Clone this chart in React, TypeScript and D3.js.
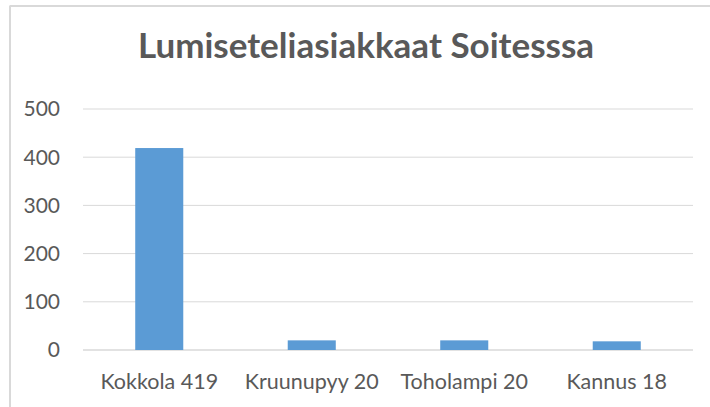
import React from 'react';
import * as d3 from 'd3';

const categories = ['Kokkola 419', 'Kruunupyy 20', 'Toholampi 20', 'Kannus 18'];
const values = [419, 20, 20, 18];
const yTicks = [0, 100, 200, 300, 400, 500];
const title = 'Lumiseteliasiakkaat Soitesssa';

const W = 710;
const H = 407;
const plot = { left: 83, right: 693, top: 109, bottom: 350 };
const textColor = '#595959';
const font = 'Lato, "Open Sans", sans-serif';

export default function App() {
  const x = d3.scaleBand<string>().domain(categories).range([plot.left, plot.right]).paddingInner(0.685).paddingOuter(0.3425);
  const y = d3.scaleLinear().domain([0, 500]).range([plot.bottom, plot.top]);

  return (
    <svg width={W} height={H} style={{ position: 'absolute', left: 0, top: 0, background: '#fff' }}>
      {/* chart area frame (cropped at right and bottom) */}
      <line x1={9.5} y1={6} x2={W} y2={6} stroke="#d9d9d9" strokeWidth={2} />
      <line x1={10} y1={6} x2={10} y2={H} stroke="#d9d9d9" strokeWidth={2} />

      <text x={366} y={58} textAnchor="middle" fontFamily={font} fontWeight="bold" fontSize={35} fill={textColor}>
        {title}
      </text>

      {yTicks.map(t => (
        <g key={t}>
          <line x1={plot.left} x2={plot.right} y1={y(t)} y2={y(t)} stroke="#d9d9d9" strokeWidth={t === 0 ? 1.5 : 1} />
          <text x={60} y={y(t)} dy="0.35em" textAnchor="end" fontFamily={font} fontSize={21} fill={textColor}>
            {t}
          </text>
        </g>
      ))}

      {categories.map((c, i) => (
        <rect key={c} x={x(c)} y={y(values[i])} width={x.bandwidth()} height={y(0) - y(values[i])} fill="#5b9bd5" />
      ))}

      {categories.map(c => (
        <text key={c} x={(x(c) ?? 0) + x.bandwidth() / 2} y={389} textAnchor="middle" fontFamily={font} fontSize={21.5} fill={textColor}>
          {c}
        </text>
      ))}
    </svg>
  );
}
